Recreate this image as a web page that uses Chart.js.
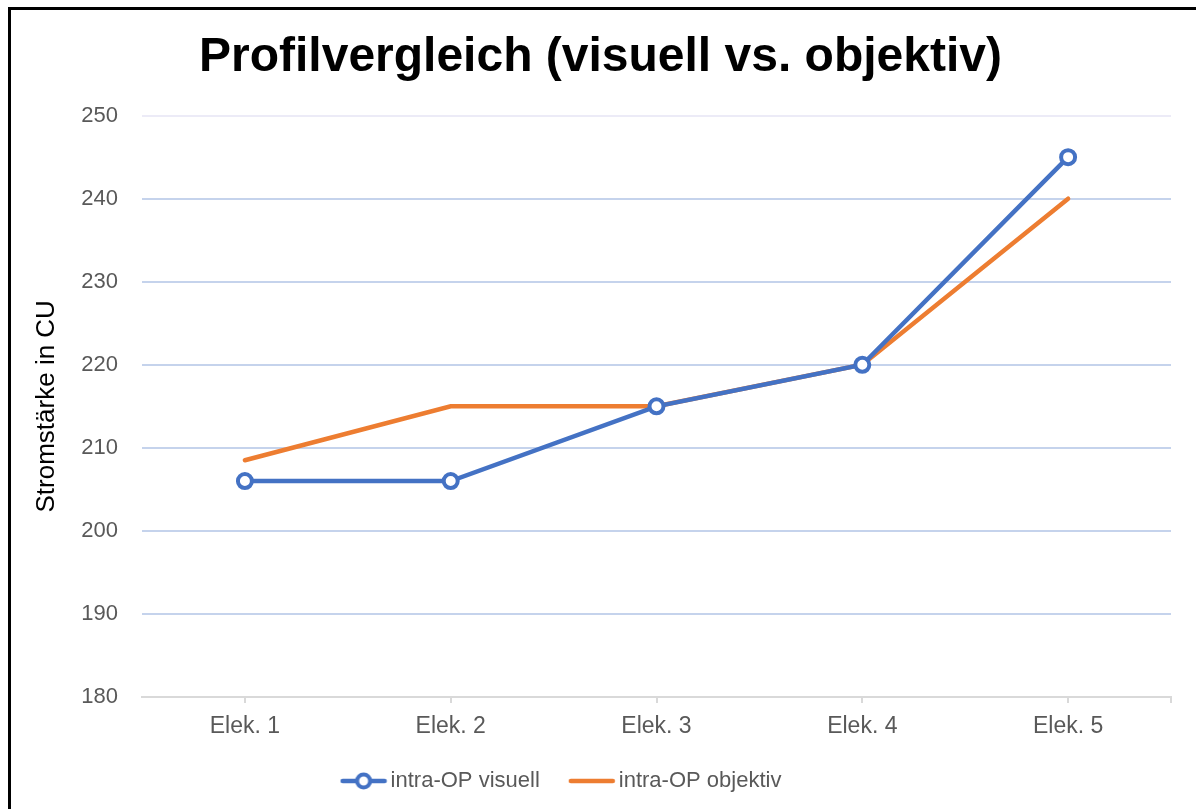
<!DOCTYPE html>
<html>
<head>
<meta charset="utf-8">
<script src="https://cdn.jsdelivr.net/npm/chart.js@4"></script>
<style>
  html, body { margin: 0; padding: 0; background: #fff; overflow: hidden; }
  #frame { position: absolute; left: 8px; top: 7px; width: 1400px; height: 1000px;
           border-left: 3px solid #000; border-top: 3px solid #000; }
  #wrap { position: absolute; left: 0; top: 0; width: 1196px; height: 809px; }
</style>
</head>
<body>
<div id="frame"></div>
<div id="wrap"><canvas id="chart" width="1196" height="809"></canvas></div>
<script>
// --- Data ---
const categories = ['Elek. 1', 'Elek. 2', 'Elek. 3', 'Elek. 4', 'Elek. 5'];
const visuell = [206, 206, 215, 220, 245];
const objektiv = [208.5, 215, 215, 220, 240];
const yTicks = [180, 190, 200, 210, 220, 230, 240, 250];

const BLUE = '#4472c4';
const ORANGE = '#ed7d31';
const GREY = '#595959';
const FONT = 'Liberation Sans, Arial, sans-serif';

// legend icons (line with optional circle marker)
function legendIcon(color, withMarker) {
    const c = document.createElement('canvas');
    c.width = 48; c.height = 20;
    const g = c.getContext('2d');
    g.strokeStyle = color;
    g.lineWidth = 4.5;
    g.lineCap = 'round';
    g.beginPath(); g.moveTo(3, 10); g.lineTo(45, 10); g.stroke();
    if (withMarker) {
        g.fillStyle = '#fff';
        g.lineWidth = 4;
        g.beginPath(); g.arc(24, 10, 6.5, 0, Math.PI * 2); g.fill(); g.stroke();
    }
    return c;
}
const icons = [legendIcon(BLUE, true), legendIcon(ORANGE, false)];

// small end tick at the right of the x axis + nudge legend left like the original
const extras = {
    id: 'extras',
    afterLayout(chart) {
        chart.legend.left -= 36;
        chart.legend.right -= 36;
    },
    afterDraw(chart) {
        const { ctx, chartArea } = chart;
        ctx.save();
        ctx.strokeStyle = '#d9d9d9';
        ctx.lineWidth = 2;
        ctx.beginPath();
        ctx.moveTo(chartArea.right, chartArea.bottom);
        ctx.lineTo(chartArea.right, chartArea.bottom + 6);
        ctx.stroke();
        ctx.restore();
    }
};

new Chart(document.getElementById('chart'), {
    type: 'line',
    data: {
        labels: categories,
        datasets: [{
            label: 'intra-OP visuell',
            data: visuell,
            borderColor: BLUE,
            backgroundColor: '#fff',
            borderWidth: 4.5,
            pointRadius: 7,
            pointBorderWidth: 4,
            pointBackgroundColor: '#fff',
            pointBorderColor: BLUE,
            tension: 0
        }, {
            label: 'intra-OP objektiv',
            data: objektiv,
            borderColor: ORANGE,
            backgroundColor: ORANGE,
            borderWidth: 4.5,
            pointRadius: 0,
            borderCapStyle: 'round',
            tension: 0
        }]
    },
    options: {
        responsive: false,
        animation: false,
        layout: { padding: { left: 30, right: 25, top: 20, bottom: 7 } },
        plugins: {
            title: {
                display: true,
                text: 'Profilvergleich (visuell vs. objektiv)',
                color: '#000',
                font: { family: FONT, size: 48, weight: 'bold' },
                padding: { top: 9, bottom: 29 }
            },
            legend: {
                position: 'bottom',
                labels: {
                    color: GREY,
                    font: { family: FONT, size: 22 },
                    usePointStyle: true,
                    pointStyleWidth: 32,
                    padding: 36,
                    generateLabels(chart) {
                        return chart.data.datasets.map((ds, i) => ({
                            text: ds.label,
                            fontColor: GREY,
                            pointStyle: icons[i],
                            datasetIndex: i,
                            hidden: false,
                            lineWidth: 0
                        }));
                    }
                }
            },
            tooltip: { enabled: false }
        },
        scales: {
            x: {
                offset: true,
                afterFit(scale) { scale.height = 37; },
                grid: { drawOnChartArea: false, drawTicks: true, tickLength: 6, color: '#d9d9d9', lineWidth: 2 },
                border: { color: '#d9d9d9', width: 2 },
                ticks: {
                    color: GREY,
                    padding: 10,
                    font: { family: FONT, size: 23 }
                }
            },
            y: {
                min: 180,
                max: 250,
                afterFit(scale) { scale.width = 112; },
                afterBuildTicks(scale) { scale.ticks = yTicks.map(v => ({ value: v })); },
                grid: {
                    drawTicks: false,
                    lineWidth: 2,
                    color: ctx => ctx.tick && ctx.tick.value === 250 ? '#ecebf7' : (ctx.tick && ctx.tick.value === 180 ? '#d9d9d9' : '#c5d3ec')
                },
                border: { display: false },
                ticks: {
                    color: GREY,
                    padding: 24,
                    font: { family: FONT, size: 22 }
                },
                title: {
                    display: true,
                    text: 'Stromstärke in CU',
                    color: '#000',
                    font: { family: FONT, size: 26 },
                    padding: { top: 1, bottom: 0 }
                }
            }
        }
    },
    plugins: [extras]
});
</script>
</body>
</html>
